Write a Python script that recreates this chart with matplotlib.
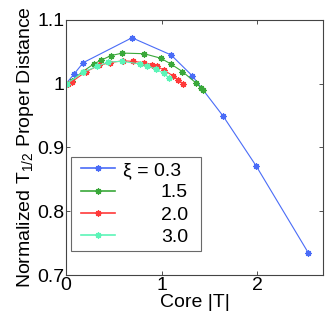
import matplotlib
matplotlib.use("Agg")
import matplotlib.pyplot as plt

plt.rcParams['font.family'] = ['Liberation Sans', 'DejaVu Sans']
plt.rcParams['mathtext.fontset'] = 'custom'
plt.rcParams['mathtext.rm'] = 'Liberation Sans'
plt.rcParams['mathtext.it'] = 'Liberation Sans'

labels = ["\u03be = 0.3\u2002", "1.5", "2.0", "3.0"]
colors = ["#4a6cf7", "#3aa83a", "#ff3a3a", "#5cf5b8"]

x03 = [0.0, 0.083, 0.18, 0.69, 1.10, 1.32, 1.645, 1.99, 2.535]
y03 = [1.0, 1.015, 1.033, 1.072, 1.045, 1.0125, 0.949, 0.871, 0.735]

x15 = [0.007, 0.06, 0.175, 0.29, 0.37, 0.468, 0.59, 0.817, 0.99, 1.096, 1.218, 1.361, 1.41, 1.438]
y15 = [1.0, 1.005, 1.019, 1.031, 1.037, 1.044, 1.048, 1.047, 1.040, 1.031, 1.019, 1.001, 0.994, 0.990]

x20 = [0.02, 0.06, 0.21, 0.35, 0.46, 0.594, 0.698, 0.82, 0.897, 0.956, 1.026, 1.124, 1.176, 1.228]
y20 = [1.0, 1.003, 1.019, 1.029, 1.033, 1.036, 1.035, 1.033, 1.030, 1.027, 1.021, 1.012, 1.006, 0.9995]

x30 = [0.007, 0.18, 0.32, 0.443, 0.583, 0.775, 0.845, 0.942, 1.02, 1.08]
y30 = [1.0, 1.018, 1.027, 1.034, 1.035, 1.031, 1.028, 1.023, 1.016, 1.009]

series = [(x03, y03), (x15, y15), (x20, y20), (x30, y30)]

fig = plt.figure(figsize=(3.27, 3.21), dpi=100)
ax = fig.add_axes([0.202, 0.143, 0.786, 0.795])

for (xs, ys), c, lab in zip(series, colors, labels):
    ax.plot(xs, ys, color=c, lw=0.8, marker=(8, 2, 0), ms=4.5, mew=0.9, label=lab)

ax.set_xlim(0, 2.69)
ax.set_ylim(0.7, 1.1)
ax.set_xticks([0, 1, 2])
ax.set_xticklabels(["0", "1", "2"])
ax.set_yticks([0.7, 0.8, 0.9, 1.0, 1.1])
ax.set_yticklabels(["0.7", "0.8", "0.9", "1", "1.1"])
ax.tick_params(direction='in', length=3, width=0.6, top=True, right=True,
               labelsize=14, pad=1.2, colors='#333333', labelcolor='black')
for s in ax.spines.values():
    s.set_color('#444444')
    s.set_linewidth(0.8)

ax.set_xlabel("Core |T|", fontsize=14, labelpad=0)
ax.set_ylabel("Normalized T$_{1/2}$ Proper Distance", fontsize=14, labelpad=1)

LFS = 14
leg = ax.legend(loc='lower left', bbox_to_anchor=(0.038, 0.095), fontsize=LFS,
                frameon=True, fancybox=False, edgecolor='#444444',
                handlelength=1.75, labelspacing=0.24, borderpad=0.25,
                handletextpad=0.42, borderaxespad=0)
frame = leg.get_frame()
frame.set_linewidth(0.8)
frame.set_boxstyle('square', pad=0.26)
frame.set_mutation_aspect(0.001)
for h in leg.get_lines():
    h.set_linewidth(1.2)

# right-align the numeric legend labels
fig.canvas.draw()
r = fig.canvas.get_renderer()
texts = leg.get_texts()
x_before = texts[1].get_window_extent(r).x0
texts[1].set_position((10, 0))
fig.canvas.draw()
factor = (texts[1].get_window_extent(r).x0 - x_before) / 10.0
texts[1].set_position((0, 0))
fig.canvas.draw()
widths = [t.get_window_extent(r).width for t in texts]
enw = 0.5 * LFS * fig.dpi / 72.0
target = widths[0] - enw + 7.0
for t, w in zip(texts[1:], widths[1:]):
    t.set_position(((target - w) / factor, 0))

fig.savefig("out.png", dpi=100)
